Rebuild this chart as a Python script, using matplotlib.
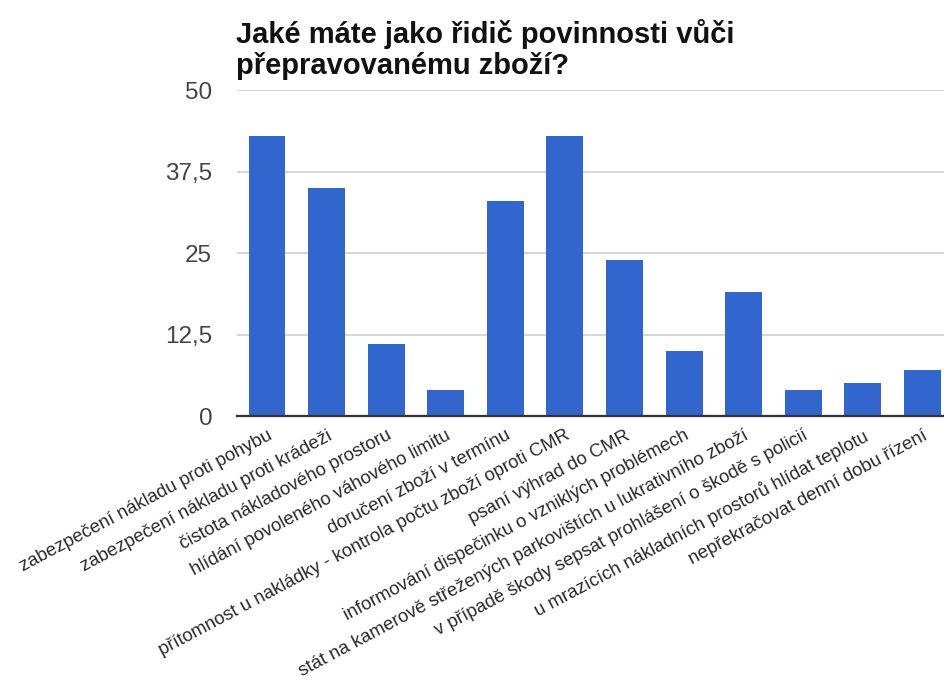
import matplotlib
matplotlib.use("Agg")
import matplotlib.pyplot as plt

# ── Data ─────────────────────────────────────────────────────────────────────
TITLE = "Jaké máte jako řidič povinnosti vůči\npřepravovanému zboží?"
categories = [
    "zabezpečení nákladu proti pohybu",
    "zabezpečení nákladu proti krádeži",
    "čistota nákladového prostoru",
    "hlídání povoleného váhového limitu",
    "doručení zboží v termínu",
    "přítomnost u nakládky - kontrola počtu zboží oproti CMR",
    "psaní výhrad do CMR",
    "informování dispečinku o vzniklých problémech",
    "stát na kamerově střežených parkovištích u lukrativního zboží",
    "v případě škody sepsat prohlášení o škodě s policií",
    "u mrazících nákladních prostorů hlídat teplotu",
    "nepřekračovat denní dobu řízení",
]
counts = [43, 35, 11, 4, 33, 43, 24, 10, 19, 4, 5, 7]
y_ticks = [0, 12.5, 25, 37.5, 50]
y_tick_labels = ["0", "12,5", "25", "37,5", "50"]

# ── Style ────────────────────────────────────────────────────────────────────
BAR_COLOR = "#3366CC"
GRID_COLOR = "#D6D6D6"
plt.rcParams["font.family"] = ["Liberation Sans", "DejaVu Sans"]

fig = plt.figure(figsize=(9.45, 6.82), dpi=100)
ax = fig.add_axes([0.251, 0.390, 0.749, 0.478])

x = list(range(len(categories)))
ax.bar(x, counts, width=0.62, color=BAR_COLOR, zorder=3)

ax.set_ylim(0, 50)
ax.set_xlim(-0.5, 11.38)
ax.set_yticks(y_ticks)
ax.set_yticklabels(y_tick_labels, fontsize=17.5, color="#444444")
ax.grid(axis="y", color=GRID_COLOR, linewidth=1.4, zorder=0)
ax.tick_params(axis="y", length=0, pad=18)
ax.tick_params(axis="x", length=0, pad=8)

ax.set_xticks(x)
ax.set_xticklabels(categories, rotation=28, ha="right", rotation_mode="anchor",
                   fontsize=13.4, color="#2a2a2a")

for side in ["top", "right", "left"]:
    ax.spines[side].set_visible(False)
ax.spines["bottom"].set_color("#333333")
ax.spines["bottom"].set_linewidth(1.6)
ax.spines["bottom"].set_zorder(4)

fig.text(0.250, 0.972, TITLE, fontsize=21, fontweight="bold", color="#111111",
         ha="left", va="top", linespacing=1.12)

fig.savefig("out.png", dpi=100)
